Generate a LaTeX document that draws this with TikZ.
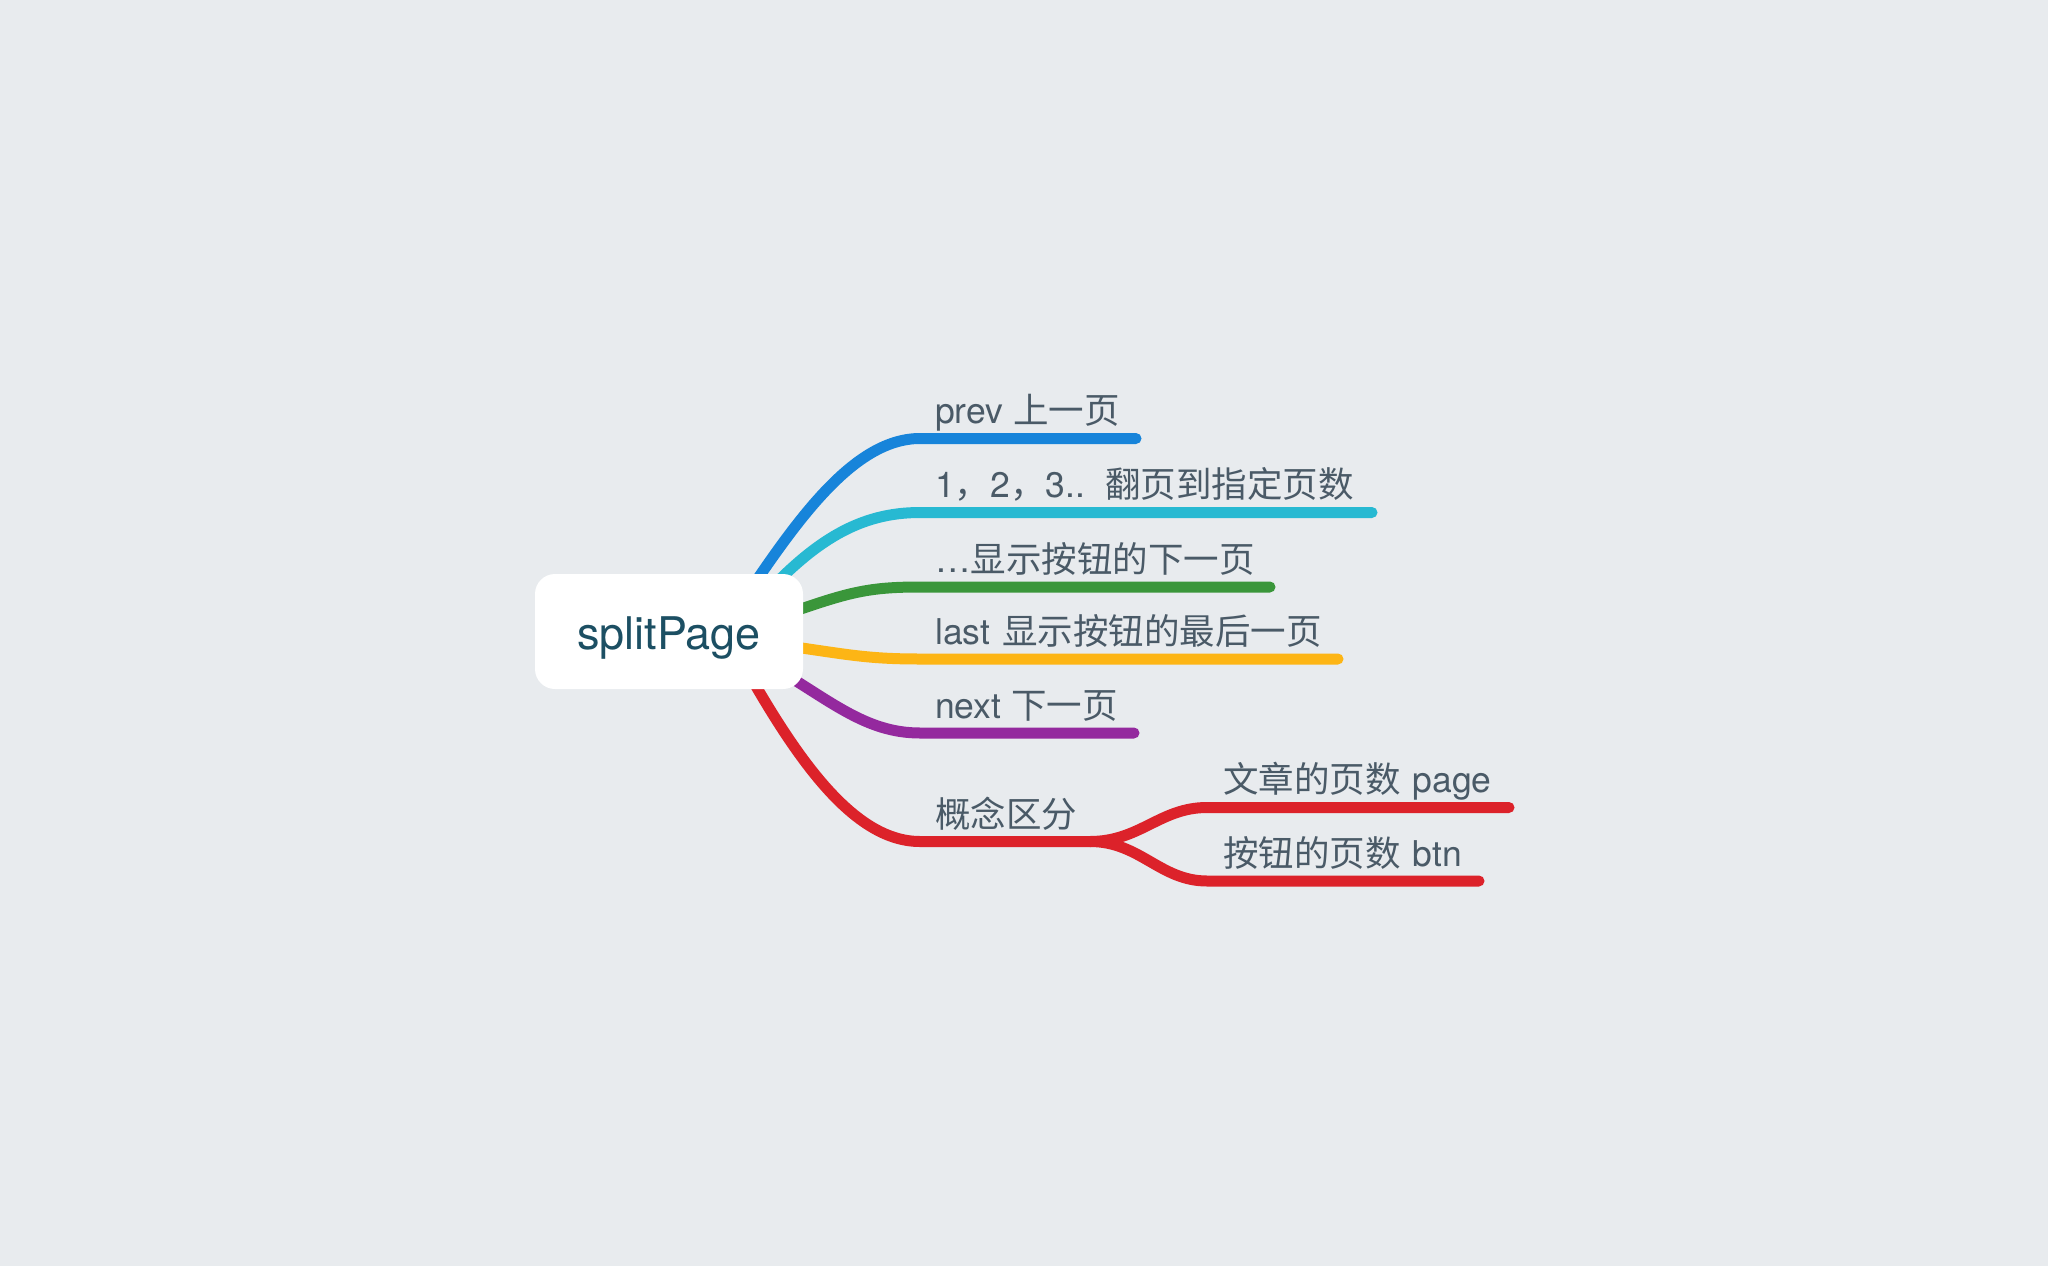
\documentclass[tikz,border=0pt]{standalone}
\usepackage{fontspec}
\setmainfont{TeX Gyre Heros}
\newfontfamily\cjk{Noto Sans CJK SC}
\definecolor{bgc}{HTML}{E8EBEE}
\definecolor{cblue}{HTML}{1784DA}
\definecolor{ccyan}{HTML}{27B9D2}
\definecolor{cgreen}{HTML}{3A963A}
\definecolor{cyellow}{HTML}{FDB515}
\definecolor{cpurple}{HTML}{94299E}
\definecolor{cred}{HTML}{DC222A}
\definecolor{labelc}{HTML}{4A5A67}
\definecolor{rootc}{HTML}{1C4F63}
\begin{document}
\begin{tikzpicture}[x=1pt,y=-1pt,
  branch/.style={line width=11pt, line cap=round, line join=round},
  lbl/.style={anchor=base west, inner sep=0pt, text=labelc, font=\fontsize{35.5}{40}\selectfont},
  rootbox/.style={fill=white, rounded corners=20pt, minimum width=268pt, minimum height=115pt, inner sep=0pt},
  roottext/.style={inner sep=0pt, text=rootc, font=\fontsize{45}{50}\selectfont}
]
\useasboundingbox (0,0) rectangle (2048,1266);
\fill[bgc] (0,0) rectangle (2048,1266);

% coordinates
\coordinate (s1) at (730,620);
\coordinate (e1) at (920,438.5);
\coordinate (t1) at (1136,438.5);
\coordinate (s2) at (760,600);
\coordinate (e2) at (920,512.5);
\coordinate (t2) at (1372,512.5);
\coordinate (s3) at (795,611);
\coordinate (e3) at (920,587);
\coordinate (t3) at (1270,587);
\coordinate (s4) at (795,647);
\coordinate (e4) at (920,659);
\coordinate (t4) at (1338,659);
\coordinate (s5) at (770,665);
\coordinate (e5) at (920,733);
\coordinate (t5) at (1134,733);
\coordinate (s6) at (730,640);
\coordinate (e6) at (920,841.5);
\coordinate (f6) at (1090,841.5);
\coordinate (e7) at (1207,807.5);
\coordinate (t7) at (1509,807.5);
\coordinate (e8) at (1207,881);
\coordinate (t8) at (1479,881);

% branches
\draw[branch, cblue] (s1) .. controls (790,530) and (850,438.5) .. (e1) -- (t1);
\draw[branch, ccyan] (s2) .. controls (815,540) and (860,512.5) .. (e2) -- (t2);
\draw[branch, cgreen] (s3) .. controls (850,592) and (870,587) .. (e3) -- (t3);
\draw[branch, cyellow] (s4) .. controls (850,655) and (870,659) .. (e4) -- (t4);
\draw[branch, cpurple] (s5) .. controls (830,700) and (865,733) .. (e5) -- (t5);
\draw[branch, cred] (s6) .. controls (790,750) and (850,841.5) .. (e6) -- (f6);
\draw[branch, cred] (f6) .. controls (1140,841.5) and (1160,807.5) .. (e7) -- (t7);
\draw[branch, cred] (f6) .. controls (1140,841.5) and (1160,881) .. (e8) -- (t8);

% root
\node[rootbox] (root) at (669,631.5) {};
\node[roottext] (roott) at ([yshift=-6pt]root.center) {splitPage};

% labels
\node[lbl] (l1) at (935,423.5) {prev {\cjk 上一页}};
\node[lbl] (l2) at (935,497.5) {1{\cjk ，}2{\cjk ，}3..\hspace{20pt}{\cjk 翻页到指定页数}};
\node[lbl] (l3) at (935,572) {…{\cjk 显示按钮的下一页}};
\node[lbl] (l4) at (935,644) {last\hspace{12pt}{\cjk 显示按钮的最后一页}};
\node[lbl] (l5) at (935,718) {next {\cjk 下一页}};
\node[lbl] (l6) at (935,827) {{\cjk 概念区分}};
\node[lbl] (l7) at (1223,792.5) {{\cjk 文章的页数}\hspace{12pt}page};
\node[lbl] (l8) at (1223,866) {{\cjk 按钮的页数}\hspace{12pt}btn};
\end{tikzpicture}
\end{document}
